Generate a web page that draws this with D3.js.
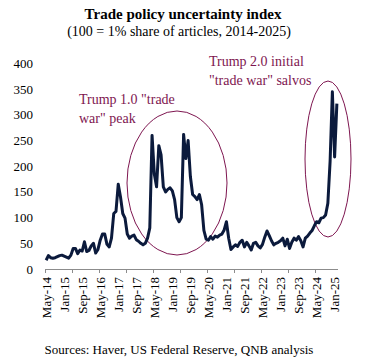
<!DOCTYPE html>
<html><head><meta charset="utf-8">
<script src="https://cdn.jsdelivr.net/npm/d3@7"></script>
<style>body{margin:0;background:#fff}svg{display:block;font-family:"Liberation Serif","Times New Roman",serif}</style>
</head><body><svg id="c" width="365" height="362"></svg>
<script>
const monthNames = ["Jan","Feb","Mar","Apr","May","Jun","Jul","Aug","Sep","Oct","Nov","Dec"];
// monthly categories May-14 .. Feb-25
const months = [];
for (let k = 0; k < 130; k++) { const m = (4 + k) % 12, y = 14 + Math.floor((4 + k) / 12); months.push(monthNames[m] + "-" + y); }
const values = [17,26,22,21,22,24,26,27,25,23,21,27,40,40,30,37,35,53,34,36,
45,50,31,38,56,68,68,48,43,60,108,112,165,140,108,99,68,60,64,66,
57,54,50,47,50,60,80,260,185,160,240,222,160,150,155,158,152,135,100,92,
100,262,215,250,180,145,141,135,145,125,75,58,56,63,58,64,62,66,68,76,
92,60,38,43,47,44,52,56,43,52,45,37,50,52,45,41,48,62,74,65,
55,47,50,52,55,60,45,58,40,52,60,56,63,55,43,60,64,70,75,84,
92,90,99,100,105,128,210,345,218,322];
const yTicks = [0,50,100,150,200,250,300,350,400];
const labelMonths = months.filter((d,i)=> i % 8 === 0 && i <= 128);
const tickMonths = months.filter((d,i)=> i % 12 === 0);
const title = "Trade policy uncertainty index";
const subtitle = "(100 = 1% share of articles, 2014-2025)";
const source = "Sources: Haver, US Federal Reserve, QNB analysis";
const notes = [
  {lines:["Trump 1.0 \"trade", "war\" peak"], x:79, y:104},
  {lines:["Trump 2.0 initial", "\"trade war\" salvos"], x:209, y:66}
];

const svg = d3.select("#c");
const x = d3.scaleBand().domain(months).range([45, 338]).padding(0);
const y = d3.scaleLinear().domain([0, 400]).range([269, 63.5]);
const accent = "#7e1650";

svg.append("text").attr("x", 183).attr("y", 19).attr("text-anchor","middle")
  .attr("font-weight","bold").attr("font-size", 15).text(title);
svg.append("text").attr("x", 179).attr("y", 36).attr("text-anchor","middle")
  .attr("font-size", 14).text(subtitle);

// y labels
svg.append("g").selectAll("text").data(yTicks).join("text")
  .attr("x", 33).attr("y", d => y(d)).attr("dy","0.35em").attr("text-anchor","end")
  .attr("font-size", 13).text(d => d);

// x axis line and ticks
const gx = svg.append("g");
gx.append("line").attr("x1", x.range()[0]).attr("x2", x.range()[1]).attr("y1", y(0)+0.5).attr("y2", y(0)+0.5)
  .attr("stroke","#8c8c8c").attr("stroke-width",1);
gx.selectAll("line.t").data(tickMonths).join("line").attr("class","t")
  .attr("x1", d => Math.round(x(d))+0.5).attr("x2", d => Math.round(x(d))+0.5)
  .attr("y1", y(0)).attr("y2", y(0)+4).attr("stroke","#8c8c8c");
const ax = d3.axisBottom(x).tickValues(labelMonths).tickSize(0).tickSizeOuter(0);
const gl = svg.append("g").attr("transform", `translate(0,${y(0)})`).call(ax);
gl.select(".domain").remove();
gl.selectAll("text").attr("font-family","Liberation Serif, serif").attr("font-size",13).attr("fill","#000")
  .attr("y",0).attr("x",0).attr("dy","0.35em").attr("text-anchor","end")
  .attr("transform","translate(0,8) rotate(-90)");

// ellipses
svg.append("ellipse").attr("cx",177).attr("cy",183).attr("rx",50).attr("ry",72)
  .attr("fill","none").attr("stroke",accent).attr("stroke-width",1);
svg.append("ellipse").attr("cx",328).attr("cy",159).attr("rx",23).attr("ry",78)
  .attr("fill","none").attr("stroke",accent).attr("stroke-width",1);

// line
const line = d3.line().x((d,i) => x(months[i]) + x.bandwidth()/2).y(d => y(d)).curve(d3.curveLinear);
svg.append("path").datum(values).attr("d", line).attr("fill","none")
  .attr("stroke","#0b1a3c").attr("stroke-width",3).attr("stroke-linejoin","round");

// annotations
notes.forEach(n => {
  const t = svg.append("text").attr("x", n.x).attr("y", n.y).attr("fill", accent).attr("font-size", 14);
  n.lines.forEach((l,i) => t.append("tspan").attr("x", n.x).attr("dy", i ? 19 : 0).text(l));
});

svg.append("text").attr("x", 179).attr("y", 354).attr("text-anchor","middle").attr("font-size",13).text(source);
</script></body></html>
